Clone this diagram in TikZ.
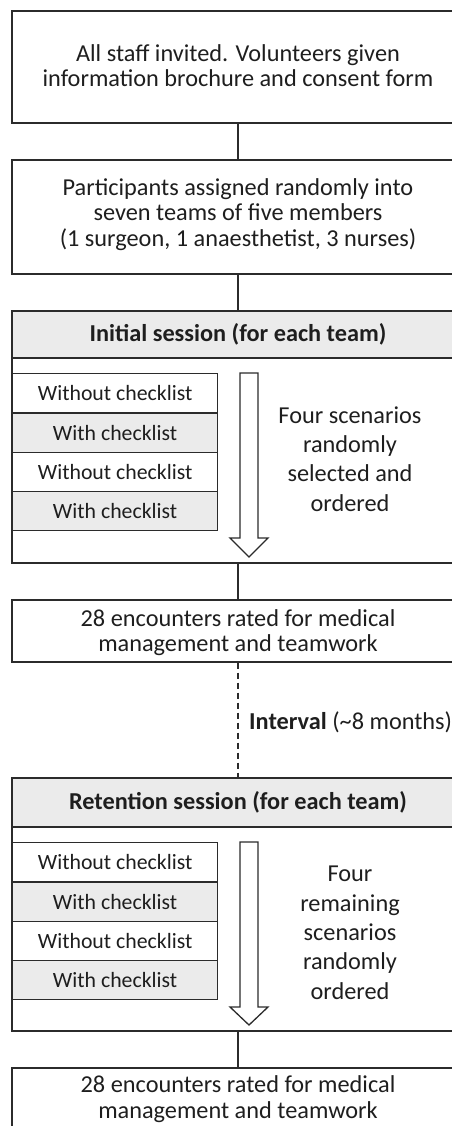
\documentclass[tikz,border=0pt]{standalone}
\usepackage{fontspec}
\setmainfont{Carlito}
\definecolor{ln}{HTML}{2B2B2B}
\definecolor{tx}{HTML}{1E1E1E}
\definecolor{gr}{HTML}{EBEBEB}
\begin{document}
\begin{tikzpicture}[x=1pt,y=-1pt,
  every node/.style={text=tx,font=\fontsize{24.3}{25.5}\selectfont},
  box/.style={draw=ln,line width=1.3pt,rectangle,inner sep=0pt,minimum width=452pt},
  btxt/.style={align=center,anchor=base,inner sep=0pt},
  rtxt/.style={align=center,anchor=base,inner sep=0pt,font=\fontsize{24.3}{29.3}\selectfont},
  hdr/.style={box,fill=gr,font=\fontsize{24.3}{25.5}\selectfont\bfseries},
  sub/.style={draw=ln,line width=1.3pt,rectangle,inner sep=0pt,minimum width=205pt,minimum height=39.25pt,anchor=north west,font=\fontsize{21.8}{25}\selectfont},
  subg/.style={sub,fill=gr},
  conn/.style={draw=ln,line width=1.3pt},
  bigarrow/.style={draw=ln,line width=1.3pt,fill=white,line join=miter}]
\useasboundingbox (0,0) rectangle (452,1126);
\clip (0,0) rectangle (452,1126);
% box 1
\node[box,minimum height=112pt] (b1) at (238,67) {};
\node[btxt] (b1t) at (238,86.7) {All staff invited. Volunteers given\\information brochure and consent form};
\node[box,minimum height=114pt] (b2) at (238,217) {};
\node[btxt] (b2t) at (238,246) {Participants assigned randomly into\\seven teams of five members\\(1 surgeon, 1 anaesthetist, 3 nurses)};
% initial session
\node[box,minimum height=252pt] (s1) at (238,437) {};
\node[hdr,minimum height=47pt] (h1) at (238,334.5) {Initial session (for each team)};
\node[sub]  (a1) at (12,373)    {Without checklist};
\node[subg] (a2) at (12,412.25) {With checklist};
\node[sub]  (a3) at (12,451.5)  {Without checklist};
\node[subg] (a4) at (12,490.75) {With checklist};
\draw[bigarrow] (240,373) -- (258,373) -- (258,538) -- (268,538) -- (249,557) -- (230,538) -- (240,538) -- cycle;
\node[rtxt] (t1) at (350,511) {Four scenarios\\randomly\\selected and\\ordered};
% box 3
\node[box,minimum height=62pt] (b3) at (238,631) {};
\node[btxt] (b3t) at (238,651.7) {28 encounters rated for medical\\management and teamwork};
% retention session
\node[box,minimum height=253pt] (s2) at (238,904.5) {};
\node[hdr,minimum height=49pt] (h2) at (238,802.5) {Retention session (for each team)};
\node[sub]  (r1) at (12,842)    {Without checklist};
\node[subg] (r2) at (12,881.25) {With checklist};
\node[sub]  (r3) at (12,920.5)  {Without checklist};
\node[subg] (r4) at (12,959.75) {With checklist};
\draw[bigarrow] (240,842) -- (258,842) -- (258,1007) -- (268,1007) -- (249,1025) -- (230,1007) -- (240,1007) -- cycle;
\node[rtxt] (t2) at (350,999) {Four\\remaining\\scenarios\\randomly\\ordered};
% box 4
\node[box,minimum height=70pt] (b4) at (238,1103) {};
\node[btxt] (b4t) at (238,1118) {28 encounters rated for medical\\management and teamwork};
% connectors
\draw[conn] (b1.south) -- (b2.north);
\draw[conn] (b2.south) -- (h1.north);
\draw[conn] (s1.south) -- (b3.north);
\draw[conn,dashed,dash pattern=on 6pt off 4pt] (b3.south) -- (h2.north);
\node[anchor=base west,inner sep=0pt] (iv) at (249,729) {\textbf{Interval} (\textasciitilde 8 months)};
\draw[conn] (s2.south) -- (b4.north);
\end{tikzpicture}
\end{document}
